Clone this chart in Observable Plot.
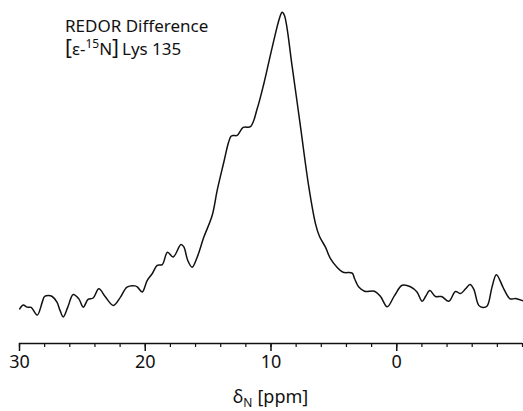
<!DOCTYPE html>
<html>
<head>
<meta charset="utf-8">
<script src="https://cdn.jsdelivr.net/npm/d3@7"></script>
<script src="https://cdn.jsdelivr.net/npm/@observablehq/plot@0.6"></script>
<style>
  html, body { margin: 0; padding: 0; background: #fff; }
  #chart { width: 523px; height: 411px; }
</style>
</head>
<body>
<div id="chart"></div>
<script>
// Chemical shift (ppm) of each sampled point along the spectrum
const shiftPpm = [29.98, 29.71, 29.39, 29.07, 28.59, 28.19, 28.01, 27.69, 27.40, 27.02,
  26.78, 26.52, 26.16, 25.73, 25.28, 24.93, 24.55, 24.14, 23.69, 23.16,
  22.53, 21.97, 21.45, 20.81, 20.62, 20.24, 19.85, 19.45, 19.05, 18.65,
  18.23, 17.78, 17.16, 16.93, 16.62, 16.27, 15.87, 15.34, 14.68, 14.28,
  13.75, 13.38, 13.18, 13.01, 12.69, 12.21, 11.63, 11.10, 10.57, 9.90,
  9.30, 9.11, 8.93, 8.31, 7.65, 6.99, 6.46, 6.14, 5.67, 5.27,
  4.75, 4.27, 3.54, 3.36, 3.00, 2.56, 1.77, 1.29, 0.76, 0.18,
  -0.43, -1.09, -1.61, -2.02, -2.29, -2.63, -3.08, -3.56, -4.14, -4.67,
  -5.07, -5.47, -5.83, -6.13, -6.52, -6.86, -7.19, -7.57, -7.92, -8.39,
  -8.51, -9.01, -9.44, -10.0];
// REDOR difference intensity (arbitrary units, peak = 100)
const intensity = [-0.3, 1.0, 0.3, 0.2, -2.4, 2.0, 3.9, 4.2, 3.9, 2.0,
  -0.8, -3.0, 0.3, 4.6, 3.1, 0.3, 2.9, 3.4, 6.5, 3.7,
  0.9, 3.7, 7.1, 7.5, 7.1, 5.4, 9.3, 11.6, 14.4, 14.7,
  18.9, 17.3, 21.5, 20.7, 16.1, 13.8, 17.2, 24.0, 31.3, 39.8,
  49.4, 56.0, 58.1, 58.4, 58.4, 61.1, 61.4, 67.4, 75.9, 88.3,
  98.4, 100.1, 99.0, 81.5, 61.2, 40.9, 28.5, 24.2, 20.6, 16.7,
  13.8, 12.1, 11.8, 10.0, 7.0, 5.7, 5.7, 3.9, 0.4, 4.2,
  7.7, 7.2, 5.4, 2.3, 3.9, 5.9, 3.9, 3.9, 2.3, 5.6,
  4.9, 6.5, 8.0, 6.3, 0.9, 0.2, 0.7, 7.0, 11.3, 7.6,
  6.5, 3.1, 3.2, 2.5];

const labelTicks = [30, 20, 10, 0];
const minorTicks = d3.range(-10, 31, 2);
const xDomain = [30, -10];
const yDomain = [-12, 100];

const data = shiftPpm.map((p, i) => ({ppm: p, v: intensity[i]}));

const fontFamily = "'Noto Sans', 'DejaVu Sans', sans-serif";

const plot = Plot.plot({
  width: 523,
  height: 411,
  marginLeft: 19,
  marginRight: 1,
  marginTop: 12,
  marginBottom: 68,
  style: {fontFamily, fontSize: "18px", color: "#111", background: "#fff"},
  x: {domain: xDomain},
  y: {domain: yDomain, axis: null},
  marks: [
    Plot.ruleY([yDomain[0]], {stroke: "#111", strokeWidth: 1.6}),
    Plot.axisX({ticks: minorTicks, tickSize: 4, tickFormat: () => "", label: null, strokeWidth: 1.2}),
    Plot.axisX({ticks: labelTicks, tickSize: 8, tickPadding: 4, label: null, strokeWidth: 1.5,
                fontSize: 18, tickFormat: d => String(d)}),
    Plot.line(data, {x: "ppm", y: "v", curve: "catmull-rom", stroke: "#111", strokeWidth: 1.5})
  ]
});

document.getElementById("chart").appendChild(plot);

// Annotation texts (title and axis label with sub/superscripts)
const svg = d3.select(plot);
svg.append("text").attr("x", 65).attr("y", 32).attr("text-anchor", "start")
  .attr("font-family", fontFamily).attr("font-size", 17).attr("fill", "#111")
  .text("REDOR Difference");
const t2 = svg.append("text").attr("x", 65).attr("y", 55).attr("text-anchor", "start")
  .attr("font-family", fontFamily).attr("font-size", 17).attr("fill", "#111");
t2.append("tspan").attr("font-size", 21).text("[");
t2.append("tspan").text("ε-");
t2.append("tspan").attr("font-size", 12).attr("dy", -7).text("15");
t2.append("tspan").attr("dy", 7).text("N");
t2.append("tspan").attr("font-size", 21).text("]");
t2.append("tspan").attr("dx", 3).text("Lys 135");

const xs = plot.scale("x");
const t3 = svg.append("text").attr("x", xs.apply(10)).attr("y", 403)
  .attr("text-anchor", "middle")
  .attr("font-family", fontFamily).attr("font-size", 18).attr("fill", "#111");
t3.append("tspan").text("δ");
t3.append("tspan").attr("font-size", 12).attr("dy", 4).text("N");
t3.append("tspan").attr("dy", -4).attr("dx", 5).text("[ppm]");
</script>
</body>
</html>
